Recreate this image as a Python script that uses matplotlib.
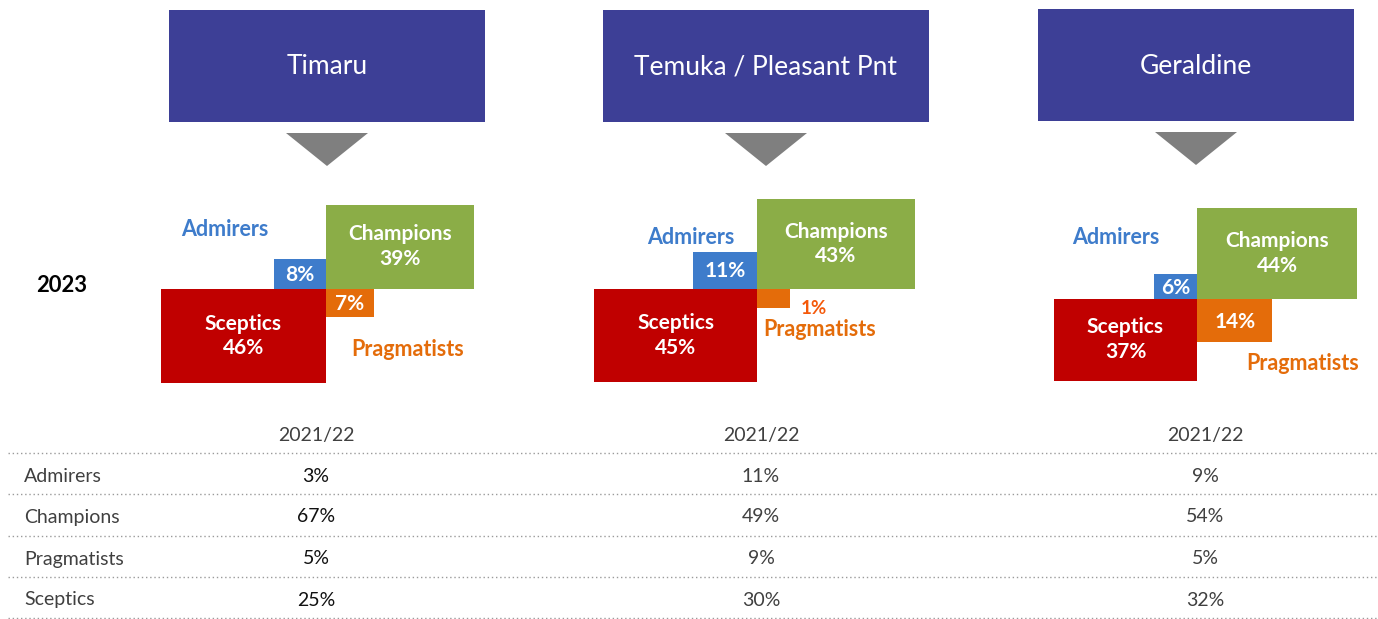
import matplotlib
matplotlib.use("Agg")
import matplotlib.pyplot as plt
from matplotlib.patches import Rectangle, Polygon

plt.rcParams['font.family'] = ['Lato', 'DejaVu Sans']

# ---------------- data ----------------
regions = ["Timaru", "Temuka / Pleasant Pnt", "Geraldine"]
segments = ["Admirers", "Champions", "Pragmatists", "Sceptics"]
year_label = "2023"
prev_label = "2021/22"
admirers_2023 = [8, 11, 6]
champions_2023 = [39, 43, 44]
pragmatists_2023 = [7, 1, 14]
sceptics_2023 = [46, 45, 37]
admirers_prev = [3, 11, 9]
champions_prev = [67, 49, 54]
pragmatists_prev = [5, 9, 5]
sceptics_prev = [25, 30, 32]

# ---------------- layout / style ----------------
W, H = 1378, 619
header_left = [169, 603, 1038]
header_width = [316, 326, 316]
header_top = [10, 10, 9]
header_h = 112
anchors = [(326, 289), (757, 289), (1197, 299)]
adm_label_off = [(-101, -59), (-66, -51), (-81, -61)]
prag_label_off = [(82, 60), (63, 41), (106, 64)]
table_cols = [316, 761, 1205]

C_HEADER = "#3D3F96"
C_TRI = "#7F7F7F"
C_CHAMP = "#8BAD47"
C_SCEP = "#C00000"
C_ADM = "#3E7CCB"
C_PRAG = "#E46C0A"
C_SMALL = "#F4590A"


def box_size(v):
    ve = max(v, 4)
    return 13.2 * ve ** 0.66, 7.8 * ve ** 0.65


fig = plt.figure(figsize=(W / 100, H / 100), dpi=100)
ax = fig.add_axes([0, 0, 1, 1])
ax.set_xlim(0, W)
ax.set_ylim(H, 0)
ax.axis("off")

BIG = 15
for i, reg in enumerate(regions):
    # header
    hl, hw, ht = header_left[i], header_width[i], header_top[i]
    ax.add_patch(Rectangle((hl, ht), hw, header_h, color=C_HEADER, lw=0))
    cx = hl + hw / 2
    ax.text(cx, ht + header_h / 2 + 1, reg, color="white", fontsize=19,
            ha="center", va="center")
    ty = ht + header_h + 11
    ax.add_patch(Polygon([(cx - 41, ty), (cx + 41, ty), (cx, ty + 33)],
                         closed=True, color=C_TRI, lw=0))

    x0, y0 = anchors[i]
    # Champions (up-right)
    w, h = box_size(champions_2023[i])
    ax.add_patch(Rectangle((x0, y0 - h), w, h, color=C_CHAMP, lw=0))
    ax.text(x0 + w / 2, y0 - h / 2, f"Champions\n{champions_2023[i]}%",
            color="white", fontsize=BIG, fontweight="bold", ha="center",
            va="center", linespacing=1.3)
    # Sceptics (down-left)
    w, h = box_size(sceptics_2023[i])
    ax.add_patch(Rectangle((x0 - w, y0), w, h, color=C_SCEP, lw=0))
    ax.text(x0 - w / 2, y0 + h / 2, f"Sceptics\n{sceptics_2023[i]}%",
            color="white", fontsize=BIG, fontweight="bold", ha="center",
            va="center", linespacing=1.3)
    # Admirers (up-left)
    w, h = box_size(admirers_2023[i])
    ax.add_patch(Rectangle((x0 - w, y0 - h), w, h, color=C_ADM, lw=0))
    ax.text(x0 - w / 2, y0 - h / 2 + 1, f"{admirers_2023[i]}%", color="white",
            fontsize=BIG, fontweight="bold", ha="center", va="center")
    dx, dy = adm_label_off[i]
    ax.text(x0 + dx, y0 + dy, "Admirers", color=C_ADM, fontsize=15.5,
            fontweight="bold", ha="center", va="center")
    # Pragmatists (down-right)
    v = pragmatists_2023[i]
    w, h = box_size(v)
    ax.add_patch(Rectangle((x0, y0), w, h, color=C_PRAG, lw=0))
    if v >= 4:
        ax.text(x0 + w / 2, y0 + h / 2 + 1, f"{v}%", color="white",
                fontsize=BIG, fontweight="bold", ha="center", va="center")
    else:
        ax.text(x0 + w + 24, y0 + h, f"{v}%", color=C_SMALL,
                fontsize=13.5, fontweight="bold", ha="center", va="center")
    dx, dy = prag_label_off[i]
    ax.text(x0 + dx, y0 + dy, "Pragmatists", color=C_PRAG, fontsize=15.5,
            fontweight="bold", ha="center", va="center")

ax.text(62, 285, year_label, color="black", fontsize=15.8, fontweight="bold",
        ha="center", va="center")

# ---------------- table ----------------
row_y = [476, 517, 559, 600]
line_y = [453, 494, 536, 577, 618]
for ly in line_y:
    ax.plot([8, W], [ly, ly], color="#9A9A9A", lw=1.0,
            linestyle=(0, (1, 2)))
for c in table_cols:
    ax.text(c, 435, prev_label, color="#404040", fontsize=14,
            ha="center", va="center")
prev_vals = [admirers_prev, champions_prev, pragmatists_prev, sceptics_prev]
for r, seg in enumerate(segments):
    ax.text(24, row_y[r], seg, color="#404040", fontsize=14,
            ha="left", va="center")
    for i, c in enumerate(table_cols):
        col = "#111111" if i == 0 else "#404040"
        ax.text(c, row_y[r], f"{prev_vals[r][i]}%", color=col, fontsize=14,
                ha="center", va="center")

fig.savefig("out.png", dpi=100)
